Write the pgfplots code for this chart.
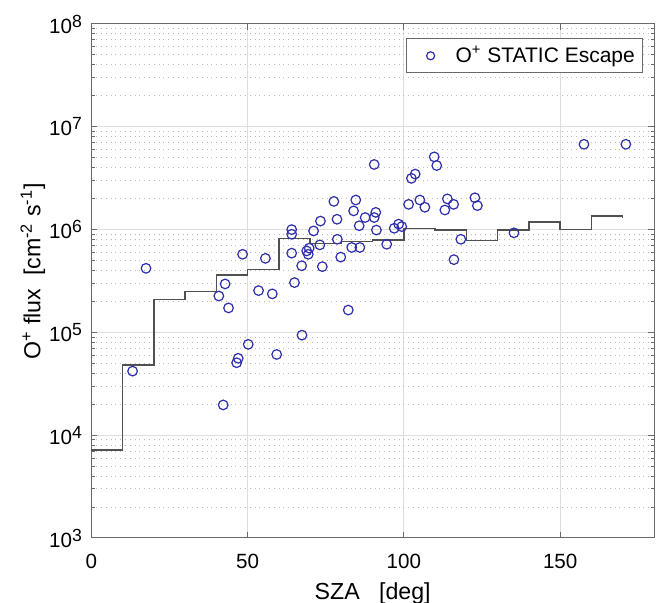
\documentclass[border=0pt]{standalone}
\usepackage{fontspec}
\setmainfont{Liberation Sans}
\usepackage{pgfplots}
\pgfplotsset{compat=1.18}
\definecolor{mk}{RGB}{45,45,170}
\definecolor{stepc}{RGB}{80,80,80}
\definecolor{axc}{RGB}{105,105,105}
\newcommand{\tp}[1]{10\raisebox{3pt}{\fontsize{8.8}{10}\selectfont #1}}
\pgfplotsset{myleg/.style={legend image code/.code={\path[draw=none,fill=none] (0pt,-2pt) rectangle (20.65pt,2pt);
    \draw[##1,mark size=2pt] plot coordinates {(8.15pt,0pt)};}}}
\begin{document}
\begin{tikzpicture}
\useasboundingbox (-45.65pt,-32.5pt) rectangle (285.35pt,269pt);
\begin{axis}[
  at={(0pt,0pt)}, anchor=south west,
  scale only axis, width=281.35pt, height=257pt,
  xmin=0, xmax=180, ymin=1e3, ymax=1e8, ymode=log, log basis y=10,
  xtick={0,50,100,150},
  ytick={1e3,1e4,1e5,1e6,1e7,1e8},
  yticklabels={\tp{3},\tp{4},\tp{5},\tp{6},\tp{7},\tp{8}},
  minor ytick={2e3,3e3,4e3,5e3,6e3,7e3,8e3,9e3,
               2e4,3e4,4e4,5e4,6e4,7e4,8e4,9e4,
               2e5,3e5,4e5,5e5,6e5,7e5,8e5,9e5,
               2e6,3e6,4e6,5e6,6e6,7e6,8e6,9e6,
               2e7,3e7,4e7,5e7,6e7,7e7,8e7,9e7},
  minor x tick num=0,
  xmajorgrids, ymajorgrids, yminorgrids,
  major grid style={color=black!13, line width=0.5pt},
  minor grid style={dotted, color=black!28, line width=0.5pt},
  axis line style={axc, line width=0.5pt},
  tick style={axc, line width=0.5pt},
  tick align=inside,
  major tick length=2.8pt, minor tick length=1.6pt,
  /pgf/number format/assume math mode=true,
  xticklabel style={font=\fontsize{10.3}{12}\selectfont, yshift=-4.5pt},
  yticklabel style={font=\fontsize{10.3}{12}\selectfont, xshift=-1.2pt},
  xlabel={SZA\ \ \ [deg]},
  ylabel={O\textsuperscript{+} flux\ \ [cm\textsuperscript{-2} s\textsuperscript{-1}]},
  xlabel style={at={(axis description cs:0.5,-0.1206)}, anchor=base, font=\fontsize{11.6}{14}\selectfont},
  ylabel style={at={(axis description cs:-0.0903,0.5185)}, anchor=base, font=\fontsize{11.6}{14}\selectfont},
  legend style={at={(0.981,0.972)}, anchor=north east, draw=axc, line width=0.5pt, fill=white,
    font=\fontsize{10.5}{12}\selectfont, inner xsep=4pt, inner ysep=3.6pt, nodes={inner sep=0pt}},
  legend cell align=left,
]
\addplot[const plot, stepc, line width=0.75pt, forget plot] coordinates {
(0,7.2e3) (10,4.8e4) (20,2.08e5) (30,2.5e5) (40,3.6e5) (50,4.1e5) (60,8.2e5)
(70,7.35e5) (80,7.7e5) (90,7.9e5) (100,1.02e6) (110,9.9e5) (120,7.8e5)
(130,9.9e5) (140,1.19e6) (150,1.0e6) (160,1.36e6) (170,1.3e6)};
\addplot[only marks, mark=o, mark size=2.4pt, color=mk, mark options={line width=0.6pt}, myleg] coordinates {
(13.2,4.2e4) (17.5,4.2e5) (40.8,2.26e5) (42.2,1.97e4) (42.8,2.96e5) (43.9,1.73e5)
(46.5,5.07e4) (47.0,5.6e4) (48.4,5.75e5) (50.2,7.65e4) (53.5,2.55e5) (55.7,5.25e5)
(57.9,2.37e5) (59.3,6.1e4) (64.1,1.0e6) (64.1,9.0e5) (64.1,5.9e5) (65.0,3.05e5)
(67.3,4.45e5) (67.4,9.4e4) (68.9,6.2e5) (69.4,5.75e5) (69.7,6.6e5) (71.1,9.7e5)
(73.3,1.21e6) (73.1,7.1e5) (73.9,4.36e5) (77.6,1.88e6) (78.6,1.26e6) (78.7,8.05e5)
(79.8,5.4e5) (82.2,1.65e5) (83.9,1.52e6) (84.6,1.94e6) (83.3,6.7e5) (85.9,6.7e5)
(85.7,1.09e6) (87.6,1.31e6) (90.5,1.31e6) (91.0,1.47e6) (91.2,9.9e5) (90.5,4.3e6)
(94.5,7.2e5) (96.9,1.03e6) (98.3,1.13e6) (99.3,1.07e6) (101.5,1.76e6) (102.4,3.15e6)
(103.6,3.47e6) (105.1,1.94e6) (106.7,1.65e6) (109.7,5.1e6) (110.5,4.2e6) (113.9,1.99e6)
(113.1,1.55e6) (115.9,1.76e6) (118.2,8.05e5) (116.0,5.1e5) (122.7,2.04e6) (123.5,1.71e6)
(135.2,9.3e5) (157.6,6.76e6) (171.0,6.76e6)};
\addlegendentry{O\textsuperscript{+} STATIC Escape}
\end{axis}
\end{tikzpicture}
\end{document}
